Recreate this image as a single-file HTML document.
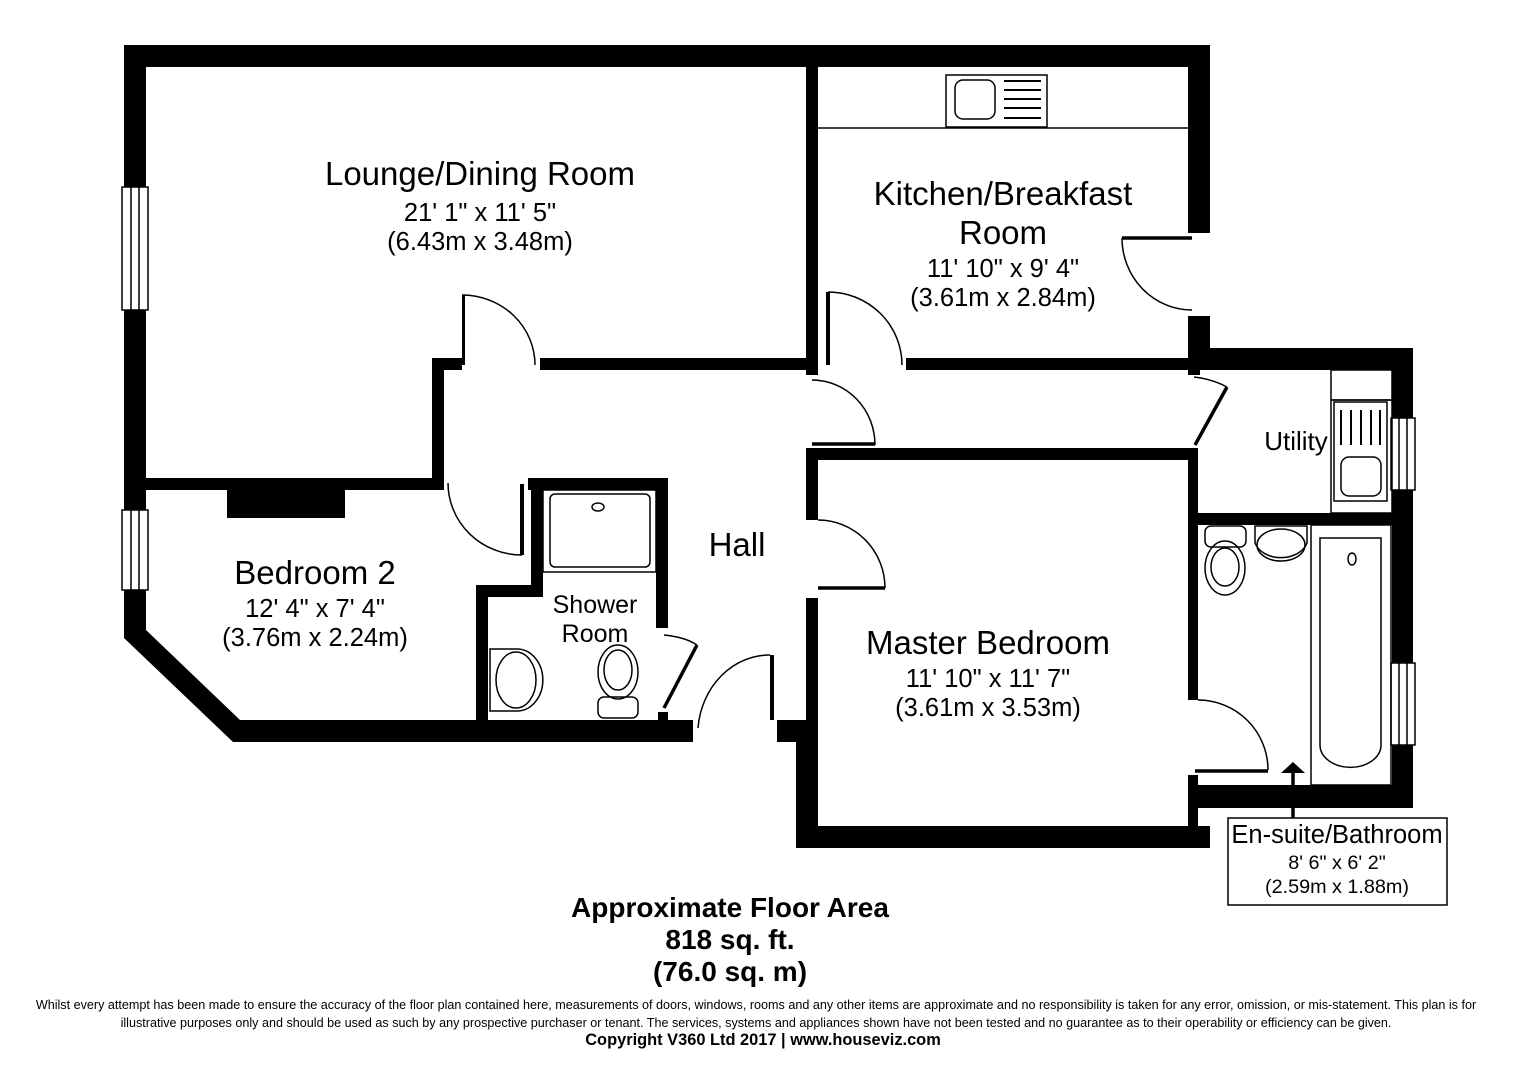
<!DOCTYPE html>
<html><head><meta charset="utf-8"><style>
html,body{margin:0;padding:0;background:#fff;}
svg{display:block;font-family:"Liberation Sans",Arial,sans-serif;}
</style></head><body>
<svg width="1528" height="1080" viewBox="0 0 1528 1080" xmlns="http://www.w3.org/2000/svg">
<g fill="#000">
<rect x="124" y="45" width="1086" height="22"/>
<rect x="124" y="45" width="22" height="445"/>
<rect x="806" y="67" width="12" height="308"/>
<rect x="1188" y="45" width="22" height="188"/>
<rect x="1188" y="316" width="22" height="44"/>
<rect x="146" y="478" width="298" height="12"/>
<rect x="227" y="485" width="118" height="33"/>
<rect x="432" y="358" width="12" height="132"/>
<rect x="432" y="358" width="30" height="12"/>
<rect x="462" y="295" width="3" height="70"/>
<rect x="540" y="358" width="278" height="12"/>
<rect x="906" y="358" width="294" height="12"/>
<rect x="826" y="292" width="4" height="73"/>
<rect x="1188" y="348" width="225" height="22"/>
<rect x="1392" y="348" width="21" height="460"/>
<rect x="1188" y="370" width="12" height="5"/>
<rect x="1188" y="448" width="10" height="252"/>
<rect x="1198" y="513" width="194" height="12"/>
<rect x="1188" y="785" width="225" height="23"/>
<rect x="1188" y="775" width="10" height="73"/>
<rect x="806" y="448" width="392" height="12"/>
<rect x="806" y="448" width="12" height="72"/>
<rect x="806" y="598" width="12" height="250"/>
<rect x="796" y="826" width="414" height="22"/>
<rect x="777" y="720" width="41" height="22"/>
<rect x="796" y="720" width="22" height="128"/>
<rect x="124" y="490" width="22" height="140"/>
<polygon points="124,630 146,630 240,720 240,742 233,742 124,638"/>
<rect x="233" y="720" width="460" height="22"/>
<rect x="476" y="585" width="12" height="137"/>
<rect x="476" y="585" width="67" height="12"/>
<rect x="531" y="478" width="12" height="119"/>
<rect x="528" y="478" width="140" height="12"/>
<rect x="656" y="478" width="12" height="150"/>
<rect x="658" y="712" width="10" height="10"/>
<rect x="520" y="484" width="4" height="71"/>
<rect x="770" y="655" width="4" height="65"/>
</g>
<g fill="#fff" stroke="#000" stroke-width="1.5">
<rect x="122" y="187" width="26" height="123"/><line x1="131" y1="187" x2="131" y2="310"/><line x1="139" y1="187" x2="139" y2="310"/>
<rect x="122" y="510" width="26" height="80"/><line x1="131" y1="510" x2="131" y2="590"/><line x1="139" y1="510" x2="139" y2="590"/>
<rect x="1391" y="418" width="24" height="72"/><line x1="1399" y1="418" x2="1399" y2="490"/><line x1="1407" y1="418" x2="1407" y2="490"/>
<rect x="1391" y="663" width="24" height="82"/><line x1="1399" y1="663" x2="1399" y2="745"/><line x1="1407" y1="663" x2="1407" y2="745"/>
</g>
<g fill="none" stroke="#000" stroke-width="1.5">
<path d="M462,295 A73,70 0 0 1 535,365"/>
<path d="M828,292 A74,73 0 0 1 902,365"/>
<path d="M1192,310 A70,72 0 0 1 1122,238" />
<path d="M812,380 A63,65 0 0 1 875,445"/>
<path d="M818,520 A67,68 0 0 1 885,588"/>
<path d="M1198,700 A70,70 0 0 1 1268,770"/>
<path d="M448,483 A74,72 0 0 0 522,555"/>
<path d="M770,655 A72,80 0 0 0 698,728"/>
<path d="M664,635 Q685,637 697,645"/>
<path d="M1194,377 Q1212,379 1227,387"/>
</g>
<g stroke="#000" stroke-width="3.5" fill="none">
<line x1="1122" y1="238" x2="1192" y2="238"/>
<line x1="812" y1="444" x2="875" y2="444"/>
<line x1="818" y1="588" x2="885" y2="588"/>
<line x1="1195" y1="771" x2="1268" y2="771"/>
<line x1="697" y1="645" x2="664" y2="708"/>
<line x1="1227" y1="387" x2="1195" y2="445"/>
<line x1="1293" y1="770" x2="1293" y2="818"/>
</g>
<polygon points="1281,773 1305,773 1293,762" fill="#000"/>
<g fill="none" stroke="#000" stroke-width="1.5">
<line x1="818" y1="128" x2="1188" y2="128"/>
<rect x="946" y="75" width="101" height="52"/>
<rect x="955" y="80" width="40" height="39" rx="8"/>
<g stroke-width="2"><line x1="1004" y1="81" x2="1041" y2="81"/><line x1="1004" y1="90" x2="1041" y2="90"/><line x1="1004" y1="99" x2="1041" y2="99"/><line x1="1004" y1="108" x2="1041" y2="108"/><line x1="1004" y1="118" x2="1041" y2="118"/></g>
<rect x="543" y="490" width="113" height="82"/>
<rect x="550" y="494" width="100" height="73" rx="5"/>
<ellipse cx="598" cy="507" rx="6" ry="4"/>
<path d="M490,649 H517 A25,30 0 0 1 517,711 H490 Z"/>
<ellipse cx="516" cy="680" rx="20" ry="28"/>
<ellipse cx="618" cy="672" rx="20" ry="27"/><ellipse cx="618" cy="670" rx="14" ry="20"/>
<rect x="598" y="697" width="40" height="21" rx="6"/>
<rect x="1331" y="370" width="61" height="30"/>
<rect x="1331" y="400" width="61" height="113"/>
<rect x="1334" y="402" width="53" height="99"/>
<g stroke-width="2"><line x1="1341" y1="410" x2="1341" y2="445"/><line x1="1351" y1="410" x2="1351" y2="445"/><line x1="1361" y1="410" x2="1361" y2="445"/><line x1="1371" y1="410" x2="1371" y2="445"/><line x1="1380" y1="410" x2="1380" y2="445"/></g>
<rect x="1341" y="457" width="40" height="39" rx="8"/>
<rect x="1311" y="525" width="80" height="260"/>
<path d="M1320,538 H1381 V745 A30,22 0 0 1 1320,745 Z"/>
<ellipse cx="1352" cy="559" rx="4" ry="6"/>
<rect x="1205" y="526" width="41" height="21" rx="6"/>
<ellipse cx="1225" cy="568" rx="20" ry="27"/><ellipse cx="1225" cy="567" rx="14" ry="19"/>
<path d="M1255,526 H1307 V543 A27,20 0 0 1 1255,543 Z"/>
<ellipse cx="1281" cy="545" rx="24" ry="16"/>
<rect x="1228" y="818" width="219" height="87"/>
</g>
<g text-anchor="middle" fill="#000">
<text x="480" y="185" font-size="33">Lounge/Dining Room</text>
<text x="480" y="221" font-size="25.5">21' 1" x 11' 5"</text>
<text x="480" y="250" font-size="25.5">(6.43m x 3.48m)</text>
<text x="1003" y="205" font-size="33">Kitchen/Breakfast</text>
<text x="1003" y="244" font-size="33">Room</text>
<text x="1003" y="277" font-size="25.5">11' 10" x 9' 4"</text>
<text x="1003" y="306" font-size="25.5">(3.61m x 2.84m)</text>
<text x="1296" y="450" font-size="26">Utility</text>
<text x="737" y="556" font-size="33">Hall</text>
<text x="315" y="584" font-size="33">Bedroom 2</text>
<text x="315" y="617" font-size="25.5">12' 4" x 7' 4"</text>
<text x="315" y="646" font-size="25.5">(3.76m x 2.24m)</text>
<text x="595" y="613" font-size="25">Shower</text>
<text x="595" y="642" font-size="25">Room</text>
<text x="988" y="654" font-size="33">Master Bedroom</text>
<text x="988" y="687" font-size="25.5">11' 10" x 11' 7"</text>
<text x="988" y="716" font-size="25.5">(3.61m x 3.53m)</text>
<text x="1337" y="843" font-size="25.5">En-suite/Bathroom</text>
<text x="1337" y="869" font-size="19.8">8' 6" x 6' 2"</text>
<text x="1337" y="893" font-size="19.8">(2.59m x 1.88m)</text>
<text x="730" y="917" font-size="28" font-weight="bold">Approximate Floor Area</text>
<text x="730" y="949" font-size="28" font-weight="bold">818 sq. ft.</text>
<text x="730" y="981" font-size="28" font-weight="bold">(76.0 sq. m)</text>
<text x="756" y="1009" font-size="12.6">Whilst every attempt has been made to ensure the accuracy of the floor plan contained here, measurements of doors, windows, rooms and any other items are approximate and no responsibility is taken for any error, omission, or mis-statement. This plan is for</text>
<text x="756" y="1027" font-size="12.6">illustrative purposes only and should be used as such by any prospective purchaser or tenant. The services, systems and appliances shown have not been tested and no guarantee as to their operability or efficiency can be given.</text>
<text x="763" y="1045" font-size="16.4" font-weight="bold">Copyright V360 Ltd 2017 | www.houseviz.com</text>
</g>
</svg>
</body></html>
